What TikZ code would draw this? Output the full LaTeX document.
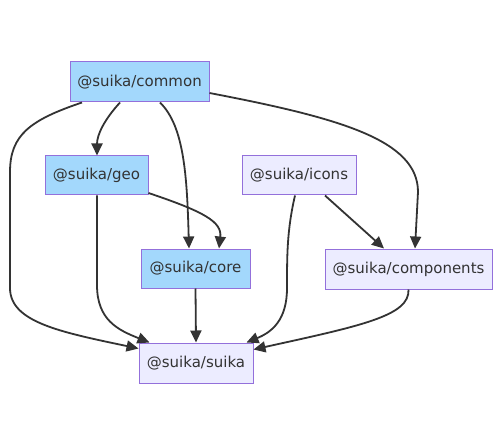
\documentclass[tikz,border=0pt]{standalone}
\usepackage{fontspec}
\setmainfont{DejaVu Sans}
\usetikzlibrary{arrows.meta,calc}
\definecolor{pkgblue}{RGB}{163,216,252}
\definecolor{pkglav}{RGB}{236,236,255}
\definecolor{pkgborder}{RGB}{147,112,219}
\definecolor{txt}{RGB}{51,51,51}
\definecolor{edge}{RGB}{51,51,51}
\tikzset{
  pkg/.style={draw=pkgborder, line width=1pt, text=txt, inner sep=0pt,
    font=\fontsize{15}{17}\selectfont, minimum height=39pt},
  bluepkg/.style={pkg, fill=pkgblue},
  lavpkg/.style={pkg, fill=pkglav},
  dep/.style={draw=edge, line width=1.8pt, -{Triangle[length=12pt,width=11pt]}},
}
\begin{document}
\begin{tikzpicture}[x=1pt,y=-1pt]
\useasboundingbox (0,0) rectangle (500,446);
\fill[white] (0,0) rectangle (500,446);

\node[bluepkg, minimum width=139pt, minimum height=40pt] (common) at (139.5,82) {@suika/common};
\node[bluepkg, minimum width=103pt] (geo) at (96.5,175.5) {@suika/geo};
\node[lavpkg, minimum width=114pt] (icons) at (299,175.5) {@suika/icons};
\node[bluepkg, minimum width=109pt] (core) at (195.5,268.5) {@suika/core};
\node[lavpkg, minimum width=167pt, minimum height=40pt] (components) at (408.5,269) {@suika/components};
\node[lavpkg, minimum width=114pt, minimum height=40pt] (suika) at (196,363) {@suika/suika};

% common -> geo
\draw[dep] ($(common.south)+(-19.5,0)$) .. controls (104,120) and (97,135) .. ($(geo.north)+(0.5,0)$);
% common -> core
\draw[dep] ($(common.south)+(20.5,0)$) .. controls (184,126) and (187,175) .. ($(core.north)+(-6.5,0)$);
% common -> suika
\draw[dep] ($(common.south)+(-57.5,0)$) .. controls (30,120) and (10,135) .. (10,172)
  -- (10,288) .. controls (10,322) and (60,332) .. ($(suika.north west)+(0,6)$);
% common -> components
\draw[dep] ($(common.east)+(0,11)$) .. controls (340,118) and (418,140) .. (418,192)
  -- ($(components.north)+(6.5,0)$);
% geo -> core
\draw[dep] ($(geo.east)+(0,17.5)$) .. controls (205,212) and (222,222) .. ($(core.north)+(23.5,0)$);
% geo -> suika
\draw[dep] ($(geo.south)+(0.5,0)$) -- (97,285) .. controls (97,320) and (118,330) .. ($(suika.north west)+(11,0)$);
% icons -> components
\draw[dep] ($(icons.south)+(26,0)$) -- ($(components.north)+(-24.5,0)$);
% icons -> suika
\draw[dep] ($(icons.south)+(-4,0)$) .. controls (287,230) and (287,255) .. (287,288)
  .. controls (287,320) and (272,332) .. ($(suika.north east)+(-7,0)$);
% core -> suika
\draw[dep] (core.south) -- (suika.north);
% components -> suika
\draw[dep] (components.south) .. controls (410,316) and (360,326) .. ($(suika.north east)+(0,7)$);
\end{tikzpicture}
\end{document}
